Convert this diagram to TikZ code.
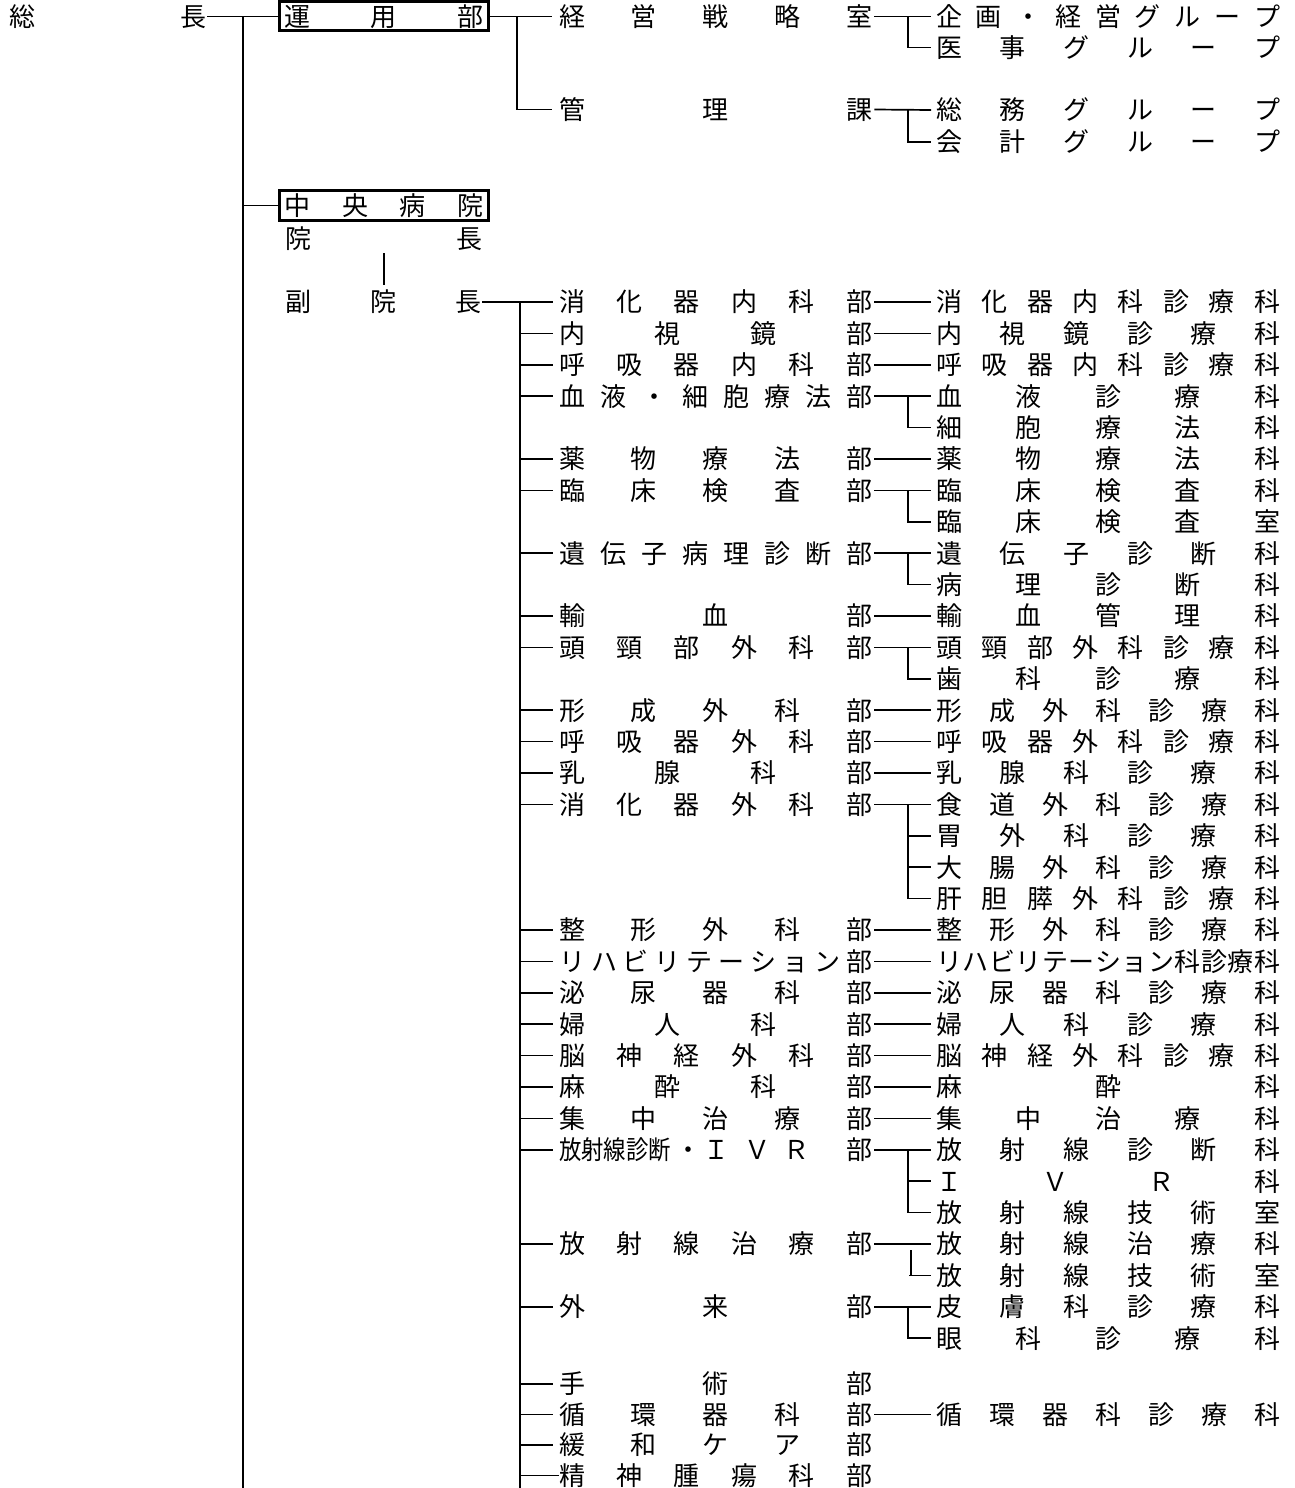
\documentclass[tikz,border=0pt]{standalone}
\usepackage{fontspec}
\usepackage{graphicx}
\newfontfamily\jp{Noto Sans CJK JP}
\def\distA#1{\ifx\relax#1\else#1\expandafter\distB\fi}
\def\distB#1{\ifx\relax#1\else\hfill#1\expandafter\distB\fi}
\newcommand\dist[2]{\hbox to #1pt{\distA#2\relax}}
\newcommand\R[1]{{302+31.4*#1}}
\tikzset{
  jt/.style={font={\jp\fontsize{26pt}{26pt}\selectfont}, inner sep=0pt, text height=22.9pt, text depth=3.1pt, anchor=west},
  orgbox/.style={font={\jp\fontsize{26pt}{26pt}\selectfont}, inner sep=0pt, text height=22.9pt, text depth=3.1pt, draw, line width=3pt, minimum width=209pt},
  conn/.style={line width=1.7pt}
}
\newcommand\Dp[3]{\node[jt] (d#1) at (559,#2) {\dist{313}{#3}};
  \draw[conn] (d#1.west -| trunkS) -- ([xshift=-6pt]d#1.west);}
\newcommand\Kd[3]{\node[jt] (c#1) at (936,#2) {\dist{344}{#3}};}
\newcommand\Cone[2]{\draw[conn] ([xshift=2pt]d#1.east) -- ([xshift=-5pt]c#2.west);}
\newcommand\Ctwo[3]{\Cone{#1}{#2}\draw[conn] (c#2.west -| vA) |- ([xshift=-5pt]c#3.west);}
\newcommand\Ctick[1]{\draw[conn] (c#1.west -| vA) -- ([xshift=-5pt]c#1.west);}
\begin{document}
\begin{tikzpicture}[x=1pt,y=-1pt]
\useasboundingbox (0,0) rectangle (1294,1488);
\coordinate (bot) at (0,1488);
\coordinate (trunkM) at (243,0);
\coordinate (trunkS) at (520,0);
\coordinate (vT) at (517,0);
\coordinate (vA) at (908,0);
\coordinate (vB) at (911,0);

% top
\node[jt] (souchou) at (9,16.5) {\dist{197}{総長}};
\node[orgbox, minimum height=29pt] (unyo) at (384,16.5) {\dist{199}{運用部}};
\node[orgbox, minimum height=30pt] (chuo) at (384,205.5) {\dist{199}{中央病院}};
\node[jt] (inchou) at (285,239) {\dist{197}{院長}};
\node[jt] (vice) at (285,302) {\dist{196}{副院長}};

\draw[conn] ([xshift=1pt]souchou.east) -- (unyo.west);
\draw[conn] (souchou.east -| trunkM) -- (trunkM |- bot);
\draw[conn] (chuo.west -| trunkM) -- (chuo.west);
\draw[conn] ([yshift=-1pt]inchou.south) -- ([yshift=4pt]inchou.south |- vice.north);

\node[jt] (keiei) at (559,16.5) {\dist{313}{経営戦略室}};
\node[jt] (kanri) at (559,109.5) {\dist{313}{管理課}};
\node[jt] (g1) at (936,16.5) {\dist{344}{企画・経営グループ}};
\node[jt] (g2) at (936,47.5) {\dist{344}{医事グループ}};
\node[jt] (g3) at (936,110) {\dist{344}{総務グループ}};
\node[jt] (g4) at (936,142) {\dist{344}{会計グループ}};
\draw[conn] (unyo.east) -- ([xshift=-7pt]keiei.west);
\draw[conn] (unyo.east -| vT) |- ([xshift=-7pt]kanri.west);
\draw[conn] ([xshift=2pt]keiei.east) -- ([xshift=-5pt]g1.west);
\draw[conn] (g1.west -| vA) |- ([xshift=-5pt]g2.west);
\draw[conn] ([xshift=2pt]kanri.east) -- ([xshift=-5pt]g3.west);
\draw[conn] (g3.west -| vA) |- ([xshift=-5pt]g4.west);

% hospital
\Dp{0}{\R{0}}{消化器内科部}
\draw[conn] ([xshift=1pt]vice.east) -- ([xshift=-6pt]d0.west);
\draw[conn] (vice.east -| trunkS) -- (trunkS |- bot);
\Kd{0}{\R{0}}{消化器内科診療科}\Cone{0}{0}
\Dp{1}{\R{1}}{内視鏡部}\Kd{1}{\R{1}}{内視鏡診療科}\Cone{1}{1}
\Dp{2}{\R{2}}{呼吸器内科部}\Kd{2}{\R{2}}{呼吸器内科診療科}\Cone{2}{2}
\Dp{3}{\R{3}}{血液・細胞療法部}\Kd{3}{\R{3}}{血液診療科}\Kd{4}{\R{4}}{細胞療法科}\Ctwo{3}{3}{4}
\Dp{5}{\R{5}}{薬物療法部}\Kd{5}{\R{5}}{薬物療法科}\Cone{5}{5}
\Dp{6}{\R{6}}{臨床検査部}\Kd{6}{\R{6}}{臨床検査科}\Kd{7}{\R{7}}{臨床検査室}\Ctwo{6}{6}{7}
\Dp{8}{\R{8}}{遺伝子病理診断部}\Kd{8}{\R{8}}{遺伝子診断科}\Kd{9}{\R{9}}{病理診断科}\Ctwo{8}{8}{9}
\Dp{10}{\R{10}}{輸血部}\Kd{10}{\R{10}}{輸血管理科}\Cone{10}{10}
\Dp{11}{\R{11}}{頭頸部外科部}\Kd{11}{\R{11}}{頭頸部外科診療科}\Kd{12}{\R{12}}{歯科診療科}\Ctwo{11}{11}{12}
\Dp{13}{\R{13}}{形成外科部}\Kd{13}{\R{13}}{形成外科診療科}\Cone{13}{13}
\Dp{14}{\R{14}}{呼吸器外科部}\Kd{14}{\R{14}}{呼吸器外科診療科}\Cone{14}{14}
\Dp{15}{\R{15}}{乳腺科部}\Kd{15}{\R{15}}{乳腺科診療科}\Cone{15}{15}
\Dp{16}{\R{16}}{消化器外科部}\Kd{16}{\R{16}}{食道外科診療科}\Kd{17}{\R{17}}{胃外科診療科}\Kd{18}{\R{18}}{大腸外科診療科}\Kd{19}{\R{19}}{肝胆膵外科診療科}
\Ctwo{16}{16}{19}\Ctick{17}\Ctick{18}
\Dp{20}{\R{20}}{整形外科部}\Kd{20}{\R{20}}{整形外科診療科}\Cone{20}{20}
\Dp{21}{\R{21}}{リハビリテーション部}\Kd{21}{\R{21}}{リハビリテーション科診療科}\Cone{21}{21}
\Dp{22}{\R{22}}{泌尿器科部}\Kd{22}{\R{22}}{泌尿器科診療科}\Cone{22}{22}
\Dp{23}{\R{23}}{婦人科部}\Kd{23}{\R{23}}{婦人科診療科}\Cone{23}{23}
\Dp{24}{\R{24}}{脳神経外科部}\Kd{24}{\R{24}}{脳神経外科診療科}\Cone{24}{24}
\Dp{25}{\R{25}}{麻酔科部}\Kd{25}{\R{25}}{麻酔科}\Cone{25}{25}
\Dp{26}{\R{26}}{集中治療部}\Kd{26}{\R{26}}{集中治療科}\Cone{26}{26}
\node[jt] (d27) at (559,\R{27}) {\hbox to 313pt{\scalebox{0.86}[1]{放射線診断}\hskip4pt ・\hskip3pt Ｉ\hskip15pt Ｖ\hskip13pt Ｒ\hfill 部}};
\draw[conn] (d27.west -| trunkS) -- ([xshift=-6pt]d27.west);
\Kd{27}{\R{27}}{放射線診断科}\Kd{28}{\R{28}}{ＩＶＲ科}\Kd{29}{\R{29}}{放射線技術室}
\Ctwo{27}{27}{29}\Ctick{28}
\Dp{30}{\R{30}}{放射線治療部}\Kd{30}{\R{30}}{放射線治療科}\Kd{31}{\R{31}}{放射線技術室}
\Cone{30}{30}
\draw[conn] ([yshift=-6pt]c30.west -| vB) -- (c31.west -| vB);
\draw[conn] ([xshift=-2pt]c31.west -| vB) -- ([xshift=-5pt]c31.west);
\Dp{32}{\R{32}}{外来部}\Kd{32}{\R{32}}{皮膚科診療科}\Kd{33}{\R{33}}{眼科診療科}\Ctwo{32}{32}{33}
\Dp{34}{1384}{手術部}
\Dp{35}{1414.5}{循環器科部}\Kd{35}{1414.5}{循環器科診療科}\Cone{35}{35}
\Dp{36}{1445}{緩和ケア部}
\node[jt] (d37) at (559,1475.5) {\dist{313}{精神腫瘍科部}};
\draw[conn] (d37.west -| trunkS) -- (d37.west);
\end{tikzpicture}
\end{document}
